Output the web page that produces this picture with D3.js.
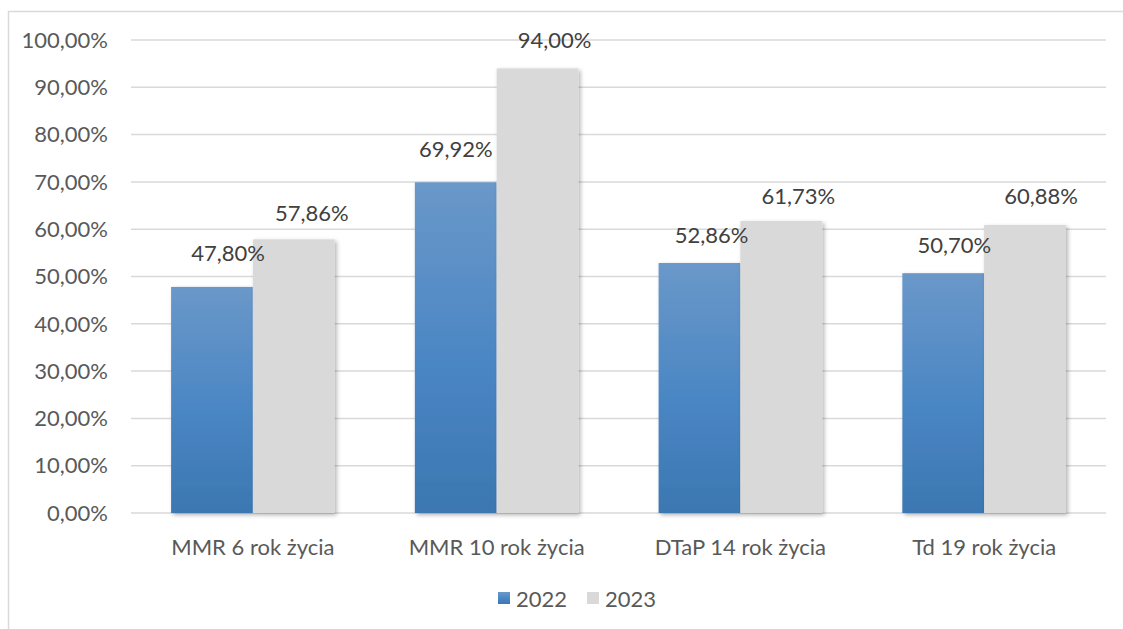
<!DOCTYPE html>
<html>
<head>
<meta charset="utf-8">
<script src="https://cdn.jsdelivr.net/npm/d3@7"></script>
<style>
  html, body { margin: 0; padding: 0; background: #fff; }
  svg { display: block; font-family: Lato, "Open Sans", sans-serif; }
</style>
</head>
<body>
<svg id="chart" width="1123" height="629"></svg>
<script>
const categories = ['MMR 6 rok życia', 'MMR 10 rok życia', 'DTaP 14 rok życia', 'Td 19 rok życia'];
const seriesNames = ['2022', '2023'];
const values2022 = [47.80, 69.92, 52.86, 50.70];
const values2023 = [57.86, 94.00, 61.73, 60.88];
const yTicks = [0, 10, 20, 30, 40, 50, 60, 70, 80, 90, 100];

// label nudges as placed in the original (per category: [2022, 2023])
const labelDx = [[16, 18], [0, 17], [12, 17], [11, 16]];
const labelDy = [[-34, -26], [-33, -28], [-28, -25], [-28, -29]];

(function(){
  const svg = d3.select('#chart');
  const W = 1123, H = 629;
  const m = { left: 131, right: 17, top: 40, bottom: 116 };
  const fmt = v => d3.format('.2f')(v).replace('.', ',') + '%';
  const textCol = '#595959';
  const fs = 22;

  // outer frame
  svg.append('rect').attr('x', 8.5).attr('y', 11.5).attr('width', W).attr('height', H)
    .attr('fill', 'none').attr('stroke', '#d9d9d9').attr('stroke-width', 1.5);

  const defs = svg.append('defs');
  const grad = defs.append('linearGradient').attr('id', 'blueGrad')
    .attr('x1', 0).attr('y1', 0).attr('x2', 0).attr('y2', 1);
  grad.append('stop').attr('offset', '0%').attr('stop-color', '#6a98c9');
  grad.append('stop').attr('offset', '55%').attr('stop-color', '#4a86c4');
  grad.append('stop').attr('offset', '100%').attr('stop-color', '#3b77b1');
  const shadow = defs.append('filter').attr('id', 'shadow')
    .attr('x', '-10%').attr('y', '-10%').attr('width', '130%').attr('height', '130%');
  shadow.append('feDropShadow').attr('dx', 2).attr('dy', 2).attr('stdDeviation', 2)
    .attr('flood-color', '#000').attr('flood-opacity', 0.3);

  const x0 = d3.scaleBand().domain(categories).range([m.left, W - m.right])
    .paddingInner(0.329).paddingOuter(0.1645);
  const x1 = d3.scaleBand().domain(seriesNames).range([0, x0.bandwidth()]);
  const y = d3.scaleLinear().domain([0, 100]).range([H - m.bottom, m.top]);

  // gridlines
  svg.append('g').selectAll('line').data(yTicks).join('line')
    .attr('x1', m.left).attr('x2', W - m.right)
    .attr('y1', d => y(d)).attr('y2', d => y(d))
    .attr('stroke', '#d9d9d9').attr('stroke-width', 1.5);

  // y tick labels
  svg.append('g').selectAll('text').data(yTicks).join('text')
    .attr('x', 108).attr('y', d => y(d)).attr('dy', '0.35em')
    .attr('text-anchor', 'end').attr('fill', textCol).attr('font-size', fs)
    .text(d => fmt(d));

  const data = categories.map((c, i) => ({
    c, i,
    vals: [values2022[i], values2023[i]].map((v, j) => ({ v, s: seriesNames[j], dx: labelDx[i][j], dy: labelDy[i][j] }))
  }));
  const groups = svg.append('g').selectAll('g').data(data).join('g')
    .attr('transform', d => `translate(${x0(d.c)},0)`);

  groups.selectAll('rect').data(d => d.vals)
    .join('rect')
    .attr('x', d => x1(d.s)).attr('width', x1.bandwidth())
    .attr('y', d => y(d.v)).attr('height', d => y(0) - y(d.v))
    .attr('fill', d => d.s === '2022' ? 'url(#blueGrad)' : '#d9d9d9')
    .attr('filter', 'url(#shadow)');

  groups.selectAll('text').data(d => d.vals)
    .join('text')
    .attr('x', d => x1(d.s) + x1.bandwidth() / 2 + d.dx)
    .attr('y', d => y(d.v) + d.dy).attr('dy', '0.35em')
    .attr('text-anchor', 'middle').attr('fill', '#404040').attr('font-size', fs)
    .text(d => fmt(d.v));

  // x axis labels
  svg.append('g').selectAll('text').data(categories).join('text')
    .attr('x', d => x0(d) + x0.bandwidth() / 2).attr('y', 547).attr('dy', '0.35em')
    .attr('text-anchor', 'middle').attr('fill', textCol).attr('font-size', fs)
    .text(d => d);

  // legend
  const legend = svg.append('g');
  const lx = [498, 587];
  seriesNames.forEach((s, i) => {
    legend.append('rect').attr('x', lx[i]).attr('y', 592).attr('width', 12).attr('height', 12)
      .attr('fill', i === 0 ? 'url(#blueGrad)' : '#d9d9d9');
    legend.append('text').attr('x', lx[i] + 18).attr('y', 599).attr('dy', '0.35em')
      .attr('fill', textCol).attr('font-size', fs).text(s);
  });
})();
</script>
</body>
</html>
